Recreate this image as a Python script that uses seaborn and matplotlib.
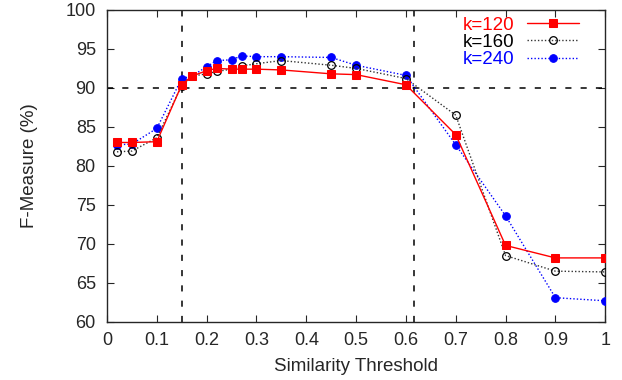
import pandas as pd
import numpy as np
import matplotlib.pyplot as plt
import seaborn as sns

# Data
threshold = [0.02, 0.05, 0.1, 0.15, 0.17, 0.2, 0.22, 0.25, 0.27, 0.3, 0.35,
             0.45, 0.5, 0.6, 0.7, 0.8, 0.9, 1.0]
f_k120 = [83.0, 83.0, 83.1, 90.4, 91.5, 92.2, 92.5, 92.4, 92.4, 92.4, 92.3,
          91.8, 91.7, 90.4, 84.0, 69.8, 68.2, 68.2]
f_k160 = [81.8, 81.9, 83.6, 90.3, 91.5, 91.8, 92.1, 92.4, 92.8, 93.1, 93.5,
          92.9, 92.5, 91.2, 86.5, 68.5, 66.5, 66.4]
f_k240 = [82.7, 82.8, 84.8, 91.2, 91.5, 92.7, 93.5, 93.6, 94.1, 94.0, 94.0,
          93.9, 92.9, 91.6, 82.7, 73.6, 63.1, 62.7]

sns.set_style("ticks")
plt.rcParams['font.family'] = ['Liberation Sans', 'DejaVu Sans']

fig = plt.figure(figsize=(6.22, 3.8), dpi=100)
ax = fig.add_axes([0.172, 0.153, 0.801, 0.821])

# Dashed reference lines
ax.axhline(90, color='black', linestyle=(0, (4, 6)), linewidth=1.1, zorder=1)
ax.axvline(0.15, color='black', linestyle=(0, (4, 6)), linewidth=1.1, zorder=1)
ax.axvline(0.617, color='black', linestyle=(0, (4, 6)), linewidth=1.1, zorder=1)

sns.lineplot(x=threshold, y=f_k240, ax=ax, color='blue', linestyle=(0, (1, 1.5)),
             linewidth=1.0, marker='o', markersize=5.5, markeredgecolor='blue',
             markerfacecolor='blue', label='k=240', zorder=3)
sns.lineplot(x=threshold, y=f_k160, ax=ax, color='#333333', linestyle=(0, (1, 1.5)),
             linewidth=1.0, marker='o', markersize=5.5, markeredgecolor='black',
             markerfacecolor='none', markeredgewidth=0.9, label='k=160', zorder=4)
sns.lineplot(x=threshold, y=f_k120, ax=ax, color='red', linestyle='-',
             linewidth=1.0, marker='s', markersize=6, markeredgecolor='red',
             markerfacecolor='red', label='k=120', zorder=5)

ax.set_xlim(0, 1)
ax.set_ylim(60, 100)
ax.set_xticks(np.arange(0, 1.01, 0.1))
ax.set_xticklabels(['0', '0.1', '0.2', '0.3', '0.4', '0.5', '0.6', '0.7', '0.8', '0.9', '1'])
ax.set_yticks(np.arange(60, 101, 5))
ax.tick_params(direction='in', top=True, right=True, labelsize=13, length=5, width=0.8)
ax.tick_params(axis='x', pad=7)
ax.tick_params(axis='y', pad=8)
ax.set_xlabel('Similarity Threshold', fontsize=13.5, labelpad=7)
ax.set_ylabel('F-Measure (%)', fontsize=13.5, labelpad=20)
for s in ax.spines.values():
    s.set_linewidth(1.0)

handles, labels = ax.get_legend_handles_labels()
order = [2, 1, 0]
leg = ax.legend([handles[i] for i in order], [labels[i] for i in order],
                loc='upper right', frameon=False, markerfirst=False,
                fontsize=13.5, handlelength=2.75, labelspacing=0.0,
                borderaxespad=0.0, borderpad=0.2, handletextpad=0.7,
                bbox_to_anchor=(0.955, 0.99),
                labelcolor=['red', 'black', 'blue'])

fig.savefig('out.png', dpi=100)
